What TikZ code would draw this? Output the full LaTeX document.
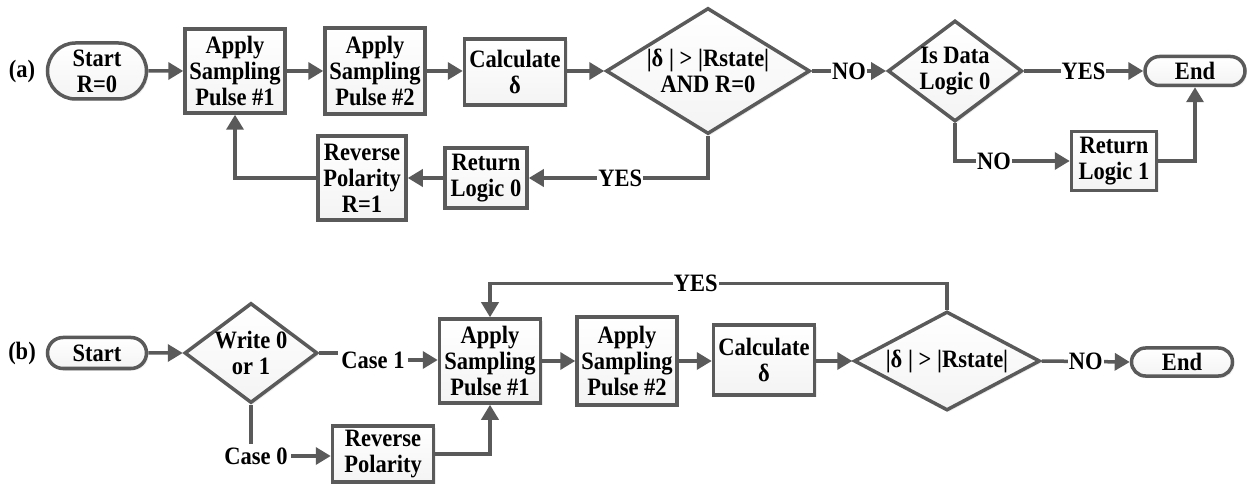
\documentclass[tikz,border=0pt]{standalone}
\usepackage{fontspec}
\setmainfont{Liberation Serif}[FakeStretch=0.9]
\usetikzlibrary{arrows.meta,shapes.geometric,shapes.misc,shadows}
\definecolor{edge}{HTML}{5A5A5A}
\begin{document}
\begin{tikzpicture}[x=1pt,y=-1pt,
 every node/.style={font=\fontsize{25}{26}\selectfont\bfseries, text=black},
 base/.style={draw=edge, line width=3.5pt, top color=white, bottom color=gray!9, align=center, inner sep=1pt,
   drop shadow={opacity=0.15, shadow xshift=2pt, shadow yshift=-2pt}},
 box/.style={base, rectangle},
 term/.style={base, rounded rectangle},
 dec/.style={base, diamond, inner sep=0pt},
 lab/.style={fill=white, inner sep=1pt},
 link/.style={draw=edge, line width=3.5pt, -{Triangle[length=15pt,width=17pt]}},
 wire/.style={draw=edge, line width=3.5pt},
]
\useasboundingbox (0,0) rectangle (1248,486);

% ---------- (a) ----------
\node (la) at (22,71) {(a)};
\node[term, minimum width=101pt, minimum height=56pt] (s1) at (97,71) {Start\\R=0};
\node[box, minimum width=100pt, minimum height=84pt] (p1) at (235,71) {Apply\\Sampling\\Pulse \#1};
\node[box, minimum width=100pt, minimum height=86pt] (p2) at (375,71) {Apply\\Sampling\\Pulse \#2};
\node[box, minimum width=101pt, minimum height=66pt] (c1) at (515,72) {Calculate\\δ};
\node[dec, aspect=1.6, minimum width=204pt, minimum height=126pt] (d1) at (708,71) {|δ | > |Rstate|\\AND R=0};
\node[dec, aspect=1.33, minimum width=133pt, minimum height=99pt] (d2) at (955,71) {Is Data\\Logic 0};
\node[term, minimum width=102pt, minimum height=29pt] (e1) at (1195,71) {End};
\node[box, minimum width=85pt, minimum height=59pt] (rl1) at (1114,161) {Return\\Logic 1};
\node[box, minimum width=82pt, minimum height=60pt] (rl0) at (486,178) {Return\\Logic 0};
\node[box, minimum width=88pt, minimum height=84pt] (rp1) at (362,178) {Reverse\\Polarity\\R=1};

\draw[link] (s1) -- (p1);
\draw[link] (p1) -- (p2);
\draw[link] (p2) -- (c1.west |- p2.east);
\draw[link] (c1.east |- d1.west) -- (d1.west);
\draw[link] (d1.east) -- node[lab]{NO} (d2.west);
\draw[link] (d2.east) -- node[lab]{YES} (e1.west);
\draw[link] (d2.south) |- node[lab, pos=0.67]{NO} (rl1.west);
\draw[link] (rl1.east) -| (e1.south);
\draw[link] (d1.south) |- node[lab, pos=0.745]{YES} (rl0.east);
\draw[link] (rl0) -- (rp1);
\draw[link] (rp1.west) -| (p1.south);

% ---------- (b) ----------
\node (lb) at (22,353) {(b)};
\node[term, minimum width=101pt, minimum height=31pt] (s2) at (97,353) {Start};
\node[dec, aspect=1.32, minimum width=133pt, minimum height=100pt] (wd) at (251,353) {Write 0\\or 1};
\node (k1) at (373,360) {Case 1};
\node (k0) at (256,456) {Case 0};
\node[box, minimum width=101pt, minimum height=56pt] (rpb) at (383,454) {Reverse\\Polarity};
\node[box, minimum width=101pt, minimum height=84pt] (bp1) at (490,361) {Apply\\Sampling\\Pulse \#1};
\node[box, minimum width=100pt, minimum height=88pt] (bp2) at (627,361) {Apply\\Sampling\\Pulse \#2};
\node[box, minimum width=101pt, minimum height=70pt] (cb) at (764,360) {Calculate\\δ};
\node[dec, aspect=1.84, minimum width=186pt, minimum height=99pt] (d3) at (947,361) {|δ | > |Rstate|};
\node[term, minimum width=103pt, minimum height=28pt] (e2) at (1182,362) {End};

\draw[link] (s2) -- (wd);
\draw[wire] (wd.east) -- (wd.east -| k1.west);
\draw[link] (k1.east) -- (bp1.west |- k1.east);
\draw[wire] (wd.south) -- (wd.south |- k0.north);
\draw[link] (k0.east) -- (rpb.west |- k0.east);
\draw[link] (rpb.east) -| (bp1.south);
\draw[link] (bp1) -- (bp2);
\draw[link] (bp2) -- (cb.west |- bp2.east);
\draw[link] (cb.east |- d3.west) -- (d3.west);
\draw[link] (d3.east) -- node[lab]{NO} (e2.west);
\draw[link] (d3.north) -- ++(0,-26) coordinate (ytop) -| node[lab, pos=0.275]{YES} (bp1.north);
\end{tikzpicture}
\end{document}
